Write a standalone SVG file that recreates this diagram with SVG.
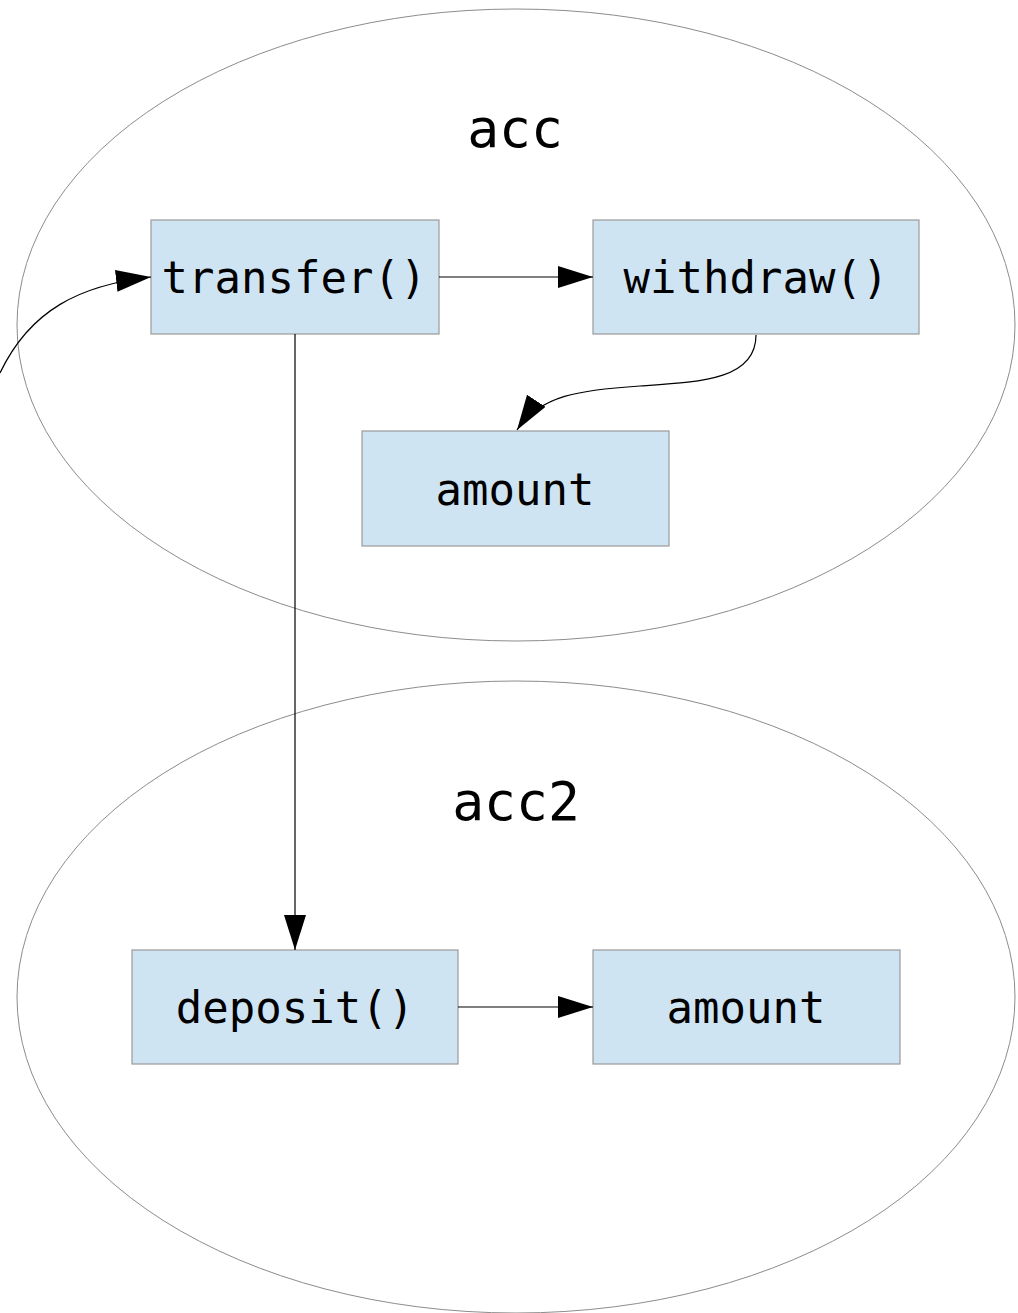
<svg xmlns="http://www.w3.org/2000/svg" width="1018" height="1313" viewBox="0 0 1018 1313">
  <style>
    .scope { fill: none; stroke: #8c8c8c; stroke-width: 1; }
    .box { fill: #cfe4f3; stroke: #9a9a9a; stroke-width: 1.2; }
    .label { font-family: "DejaVu Sans Mono", "Liberation Mono", monospace; font-size: 44px; fill: #000; text-anchor: middle; }
    .title { font-family: "DejaVu Sans Mono", "Liberation Mono", monospace; font-size: 53px; fill: #000; text-anchor: middle; }
    .edge { fill: none; stroke: #000; stroke-width: 1.2; marker-end: url(#arrow); }
  </style>
  <defs>
    <marker id="arrow" markerUnits="userSpaceOnUse" markerWidth="36" markerHeight="24" refX="35" refY="11" orient="auto">
      <path d="M0,0 L35,11 L0,22 Z" fill="#000"/>
    </marker>
  </defs>
  <rect width="1018" height="1313" fill="#fff"/>

  <!-- object scopes -->
  <g id="acc">
    <ellipse class="scope" cx="516" cy="325" rx="499" ry="316"/>
    <text class="title" x="515" y="147">acc</text>
  </g>
  <g id="acc2">
    <ellipse class="scope" cx="516" cy="997" rx="499" ry="316"/>
    <text class="title" x="516" y="820">acc2</text>
  </g>

  <!-- members -->
  <g id="transfer">
    <rect class="box" x="151" y="220" width="288" height="114"/>
    <text class="label" x="294" y="293">transfer()</text>
  </g>
  <g id="withdraw">
    <rect class="box" x="593" y="220" width="326" height="114"/>
    <text class="label" x="756" y="293">withdraw()</text>
  </g>
  <g id="amount1">
    <rect class="box" x="362" y="431" width="307" height="115"/>
    <text class="label" x="515" y="505">amount</text>
  </g>
  <g id="deposit">
    <rect class="box" x="132" y="950" width="326" height="114"/>
    <text class="label" x="295" y="1023">deposit()</text>
  </g>
  <g id="amount2">
    <rect class="box" x="593" y="950" width="307" height="114"/>
    <text class="label" x="746" y="1023">amount</text>
  </g>

  <!-- calls and accesses -->
  <g id="connectors">
    <path class="edge" d="M0,373 C30,310 80,285 151,277"/>
    <path class="edge" d="M439,277 L593,277"/>
    <path class="edge" d="M756,335 C756,380 700,382 640,386 C580,390 540,395 517,430"/>
    <path class="edge" d="M295,334 L295,950"/>
    <path class="edge" d="M458,1007 L593,1007"/>
  </g>
</svg>
